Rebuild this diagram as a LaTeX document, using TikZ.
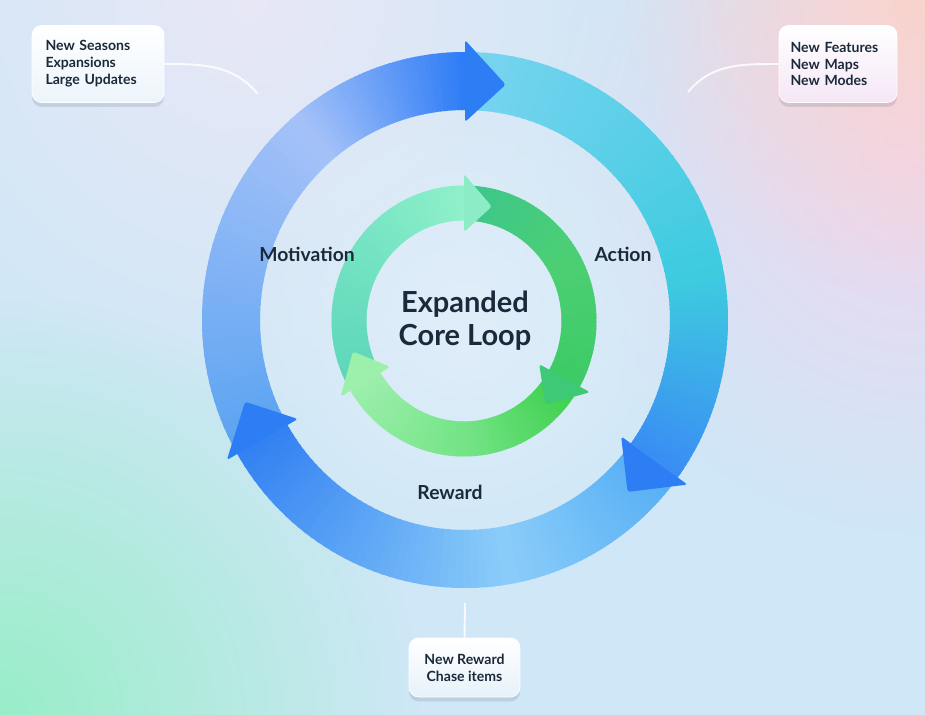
\documentclass[tikz,border=0pt]{standalone}
\usepackage{fontspec}
\setmainfont{Lato}
\usetikzlibrary{shadows, fadings}
\tikzfading[name=glowfade, inner color=transparent!0, outer color=transparent!100]
\definecolor{Ink}{HTML}{1B2A3B}
\definecolor{BgBase}{HTML}{CFE7F7}
\definecolor{BgLilac}{HTML}{E8E8F6}
\definecolor{BgPink}{HTML}{EFD6F0}
\definecolor{BgPeach}{HTML}{FAD3CC}
\definecolor{BgMint}{HTML}{98EEC8}
\definecolor{BgGlow}{HTML}{E0EEF9}
\definecolor{OutA1}{HTML}{5BA3F1}
\definecolor{OutA2}{HTML}{A3C1F8}
\definecolor{OutA3}{HTML}{2F7DF6}
\definecolor{OutB1}{HTML}{7AD4F0}
\definecolor{OutB2}{HTML}{3ECBE0}
\definecolor{OutB3}{HTML}{3A8EF3}
\definecolor{OutC1}{HTML}{55AEF4}
\definecolor{OutC2}{HTML}{8ACCF9}
\definecolor{OutC3}{HTML}{3482F2}
\definecolor{OutHead}{HTML}{2D7DF4}
\definecolor{InA1}{HTML}{5CD6B8}
\definecolor{InA2}{HTML}{72E2C2}
\definecolor{InA3}{HTML}{8FF0CA}
\definecolor{InB1}{HTML}{3CC68C}
\definecolor{InB2}{HTML}{4CCF74}
\definecolor{InB3}{HTML}{3DCB66}
\definecolor{InC1}{HTML}{3CCF4C}
\definecolor{InC2}{HTML}{74E486}
\definecolor{InC3}{HTML}{9CEFAC}
\definecolor{InHeadA}{HTML}{8CECC6}
\definecolor{InHeadB}{HTML}{3DC976}
\definecolor{InHeadC}{HTML}{9DF0AB}

% one stretch of a ring, shaded from #3 to #4 between the angles #1 and #2
\newcommand{\bandpart}[4]{%
  \pgfmathsetmacro{\outx}{\midx+\bandhw}\pgfmathsetmacro{\outy}{\midy+\bandhw}%
  \pgfmathsetmacro{\inx}{\midx-\bandhw}\pgfmathsetmacro{\iny}{\midy-\bandhw}%
  \foreach \k in {0,...,39}{%
    \pgfmathsetmacro{\ta}{#1+(#2-#1)*\k/40}%
    \pgfmathsetmacro{\tb}{#1+(#2-#1)*(\k+1.4)/40}%
    \pgfmathtruncatemacro{\pc}{100-100*\k/39}%
    \fill[#3!\pc!#4] ({\outx*cos(\ta)},{\outy*sin(\ta)})
      arc[start angle=\ta, end angle=\tb, x radius=\outx, y radius=\outy]
      -- ({\inx*cos(\tb)},{\iny*sin(\tb)})
      arc[start angle=\tb, end angle=\ta, x radius=\inx, y radius=\iny] -- cycle;
  }}
% arrow head with its base at angle #1 and its tip at angle #2
\newcommand{\ringhead}[3]{%
  \fill[#3, rounded corners=1.5pt]
    ({(\midx-\headhw)*cos(#1)},{(\midy-\headhw)*sin(#1)})
    -- ({\midx*cos(#2)},{\midy*sin(#2)})
    -- ({(\midx+\headhw)*cos(#1)},{(\midy+\headhw)*sin(#1)}) -- cycle;}

\begin{document}
\begin{tikzpicture}[x=0.02cm, y=0.02cm,
    label/.style={font=\fontsize{11}{13}\selectfont\bfseries, text=Ink},
    title/.style={font=\fontsize{16.5}{18.7}\selectfont\bfseries, text=Ink, align=center},
    infobox/.style={rounded corners=5.5pt, draw=white, thin, align=left,
      font=\fontsize{8}{9.6}\selectfont\bfseries, text=Ink,
      drop shadow={shadow xshift=0pt, shadow yshift=-2.5pt, opacity=0.12, fill=Ink}},
    glow/.style={path fading=glowfade},
    link/.style={draw=white, line width=1.1pt, opacity=0.85}
  ]
    \useasboundingbox (0,0) rectangle (925,714);
    \fill[BgBase] (-10,-10) rectangle (935,724);
    \begin{scope}
      \clip (0,0) rectangle (925,714);
      \fill[BgLilac, glow] (250,714) circle (420);
      \fill[BgPink, glow] (925,560) circle (380);
      \fill[BgPeach, glow] (925,714) circle (300);
      \fill[BgMint, glow] (0,0) circle (420);
      \fill[BgGlow, glow] (465,394) circle (260);
    \end{scope}

    \begin{scope}[shift={(465,394)}]
      \def\midx{234}\def\midy{239}\def\bandhw{29}\def\headhw{41}
      \bandpart{210}{130}{OutA1}{OutA2}
      \bandpart{130}{90}{OutA2}{OutA3}
      \bandpart{90}{10}{OutB1}{OutB2}
      \bandpart{10}{-36}{OutB2}{OutB3}
      \bandpart{-36}{-80}{OutC1}{OutC2}
      \bandpart{-80}{-150}{OutC2}{OutC3}
      \ringhead{90}{80}{OutHead}
      \ringhead{-36}{-46}{OutHead}
      \ringhead{210}{200}{OutHead}
    \end{scope}

    \begin{scope}[shift={(464,393)}]
      \def\midx{115}\def\midy{118}\def\bandhw{17.5}\def\headhw{29}
      \bandpart{210}{150}{InA1}{InA2}
      \bandpart{150}{90}{InA2}{InA3}
      \bandpart{90}{30}{InB1}{InB2}
      \bandpart{30}{-30}{InB2}{InB3}
      \bandpart{-30}{-90}{InC1}{InC2}
      \bandpart{-90}{-150}{InC2}{InC3}
      \ringhead{90}{76}{InHeadA}
      \ringhead{-29}{-45}{InHeadB}
      \ringhead{211}{195}{InHeadC}
    \end{scope}

    \node[title] (core) at (465,393) {Expanded\\Core Loop};
    \node[label] (motivation) at (307,460) {Motivation};
    \node[label] (action) at (623,460) {Action};
    \node[label] (reward) at (450,222) {Reward};

    \node[infobox, top color=white, bottom color=BgGlow!60!white,
      text width=2.1cm, inner xsep=0.27cm, minimum height=1.54cm] (seasons) at (98,650)
      {New Seasons\\Expansions\\Large Updates};
    \node[infobox, top color=white, bottom color=BgPink!60!white,
      text width=1.9cm, inner xsep=0.23cm, minimum height=1.54cm] (features) at (838,650)
      {New Features\\New Maps\\New Modes};
    \node[infobox, align=center, top color=white, bottom color=BgGlow!80!white,
      minimum width=2.22cm, minimum height=1.18cm] (chase) at (464.5,46.5)
      {New Reward\\Chase items};

    \coordinate (seasonsEnd) at (258,620);
    \coordinate (featuresEnd) at (688,622);
    \coordinate (chaseEnd) at (465,111);
    \draw[link] (seasons.east) to[out=0, in=130] (seasonsEnd);
    \draw[link] (features.west) to[out=180, in=50] (featuresEnd);
    \draw[link] (chase.north) -- (chaseEnd);
  \end{tikzpicture}
\end{document}
